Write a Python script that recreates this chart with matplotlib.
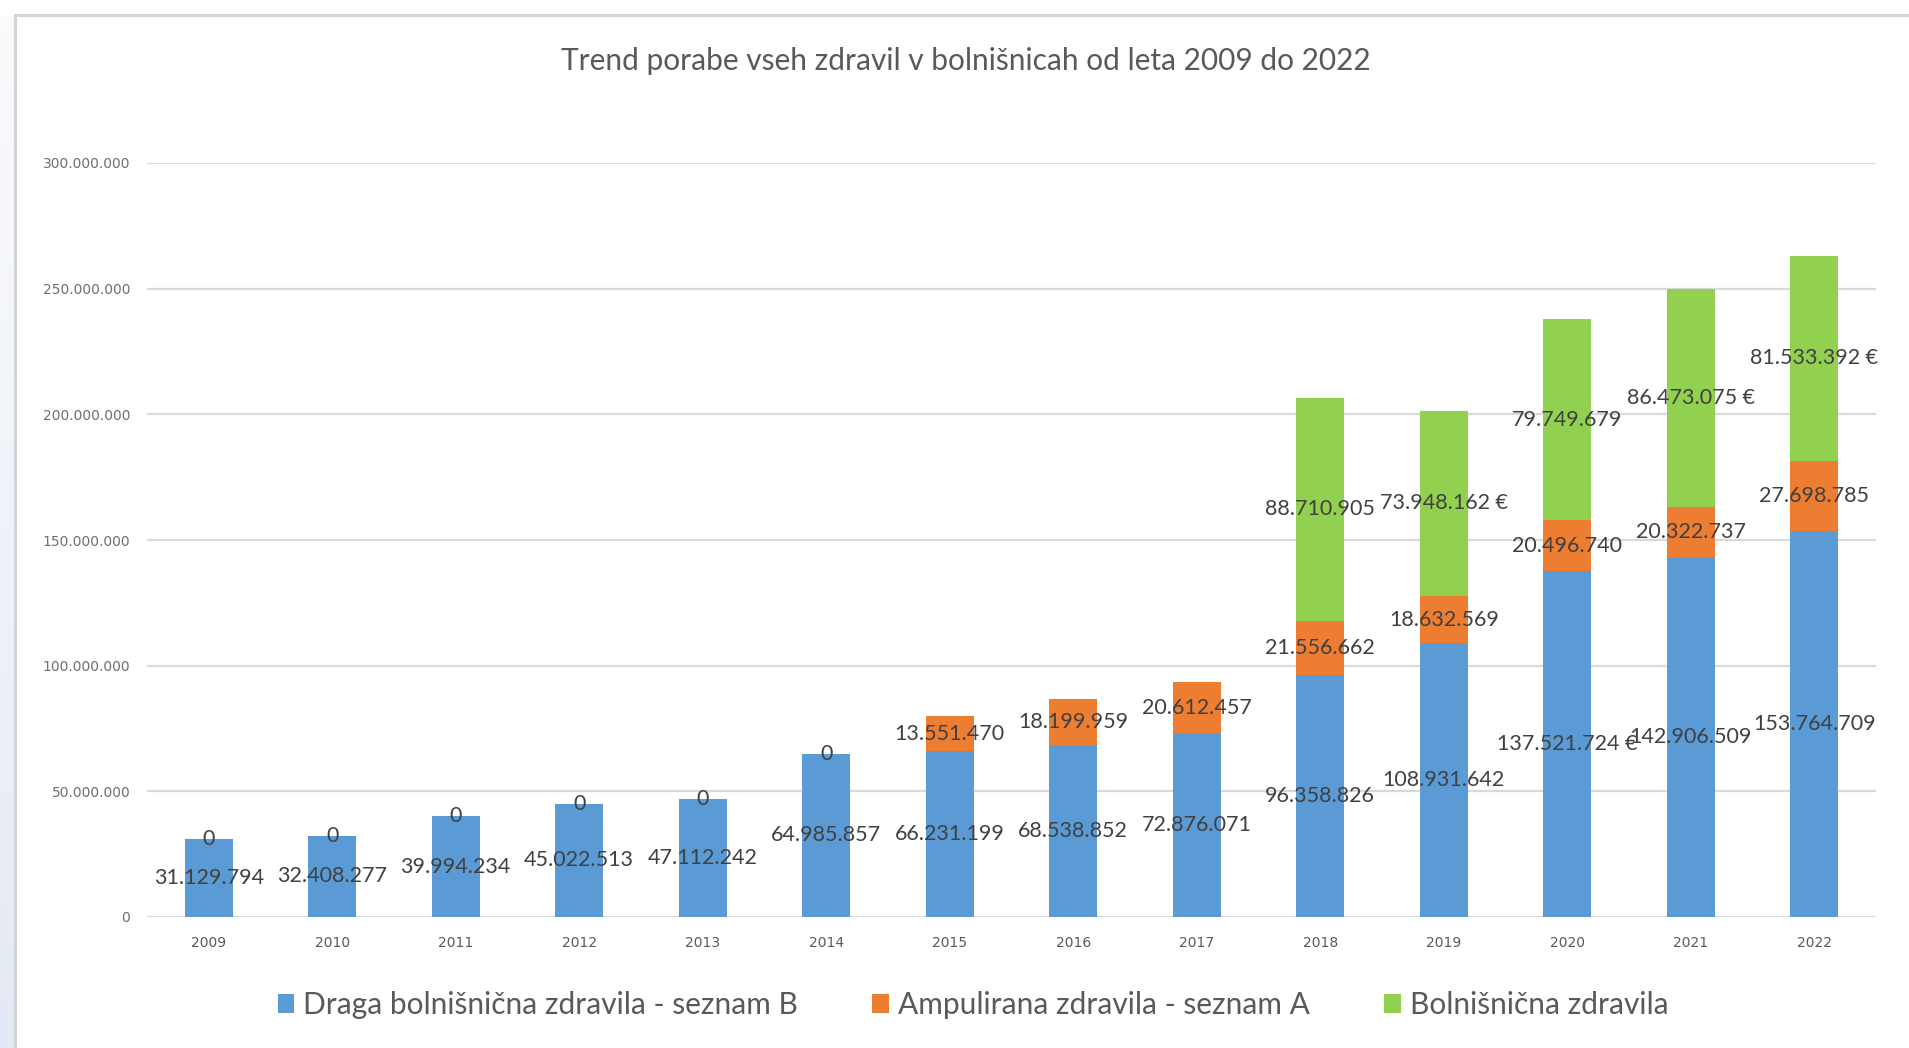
import numpy as np
import matplotlib
matplotlib.use('Agg')
import matplotlib.pyplot as plt
from matplotlib.patches import Rectangle
from matplotlib.ticker import FuncFormatter

plt.rcParams['font.family'] = ['Lato', 'DejaVu Sans']

# ---- podatki ----
years = [2009, 2010, 2011, 2012, 2013, 2014, 2015, 2016, 2017,
         2018, 2019, 2020, 2021, 2022]
seznam_b = [31129794, 32408277, 39994234, 45022513, 47112242, 64985857,
            66231199, 68538852, 72876071, 96358826, 108931642, 137521724,
            142906509, 153764709]
seznam_a = [0, 0, 0, 0, 0, 0, 13551470, 18199959, 20612457, 21556662,
            18632569, 20496740, 20322737, 27698785]
bolnisnicna = [np.nan] * 9 + [88710905, 73948162, 79749679, 86473075, 81533392]

# oznake, ki imajo v izvirniku pripisan znak €
euro_b = [2020]
euro_a = []
euro_g = [2019, 2021, 2022]

series_names = ['Draga bolnišnična zdravila - seznam B',
                'Ampulirana zdravila - seznam A',
                'Bolnišnična zdravila']
title = 'Trend porabe vseh zdravil v bolnišnicah od leta 2009 do 2022'

C_B = '#5B9BD5'
C_A = '#ED7D31'
C_G = '#92D050'
GRID = '#D9D9D9'
TXT = '#404040'


def fmt(v):
    return f'{int(v):,}'.replace(',', '.')


def make_labels(vals, euro):
    out = []
    for y, v in zip(years, vals):
        if isinstance(v, float) and np.isnan(v):
            out.append('')
        else:
            out.append(fmt(v) + (' €' if y in euro else ''))
    return out


W, H = 1909, 1048
fig = plt.figure(figsize=(W / 100, H / 100), dpi=100)
fig.patch.set_facecolor('white')

# okvir grafikona + modrikast rob levo (posnetek zaslona)
grad = fig.add_axes([0, 0, 14 / W, 1 - 16 / H])
grad.imshow(np.linspace(0, 1, 100).reshape(-1, 1), aspect='auto',
            cmap=matplotlib.colors.LinearSegmentedColormap.from_list(
                'g', ['#FAFBFD', '#E4EAF5']), extent=[0, 1, 0, 1], origin='upper')
grad.axis('off')
fig.add_artist(Rectangle((15 / W, -0.1), 2, 1.1 - 15 / H, transform=fig.transFigure,
                         fill=False, edgecolor='#D4D4D4', lw=2.2))

ax = fig.add_axes([147 / W, 1 - 917 / H, (1876 - 147) / W, (917 - 163) / H])
x = np.arange(len(years))
b = np.array(seznam_b, dtype=float)
a = np.array(seznam_a, dtype=float)
g = np.array(bolnisnicna, dtype=float)

bw = 0.39
bars_b = ax.bar(x, b, bw, color=C_B, label=series_names[0], zorder=2)
bars_a = ax.bar(x, a, bw, bottom=b, color=C_A, label=series_names[1], zorder=2)
bars_g = ax.bar(x, np.nan_to_num(g), bw, bottom=b + a, color=C_G,
                label=series_names[2], zorder=2)

for bars, vals, eur in [(bars_b, seznam_b, euro_b), (bars_a, seznam_a, euro_a),
                        (bars_g, bolnisnicna, euro_g)]:
    ax.bar_label(bars, labels=make_labels(vals, eur), label_type='center',
                 fontsize=15.5, color=TXT, zorder=5)

ax.set_xlim(-0.5, len(years) - 0.5)
ax.set_ylim(0, 300000000)
ax.set_yticks(np.arange(0, 300000001, 50000000))
ax.yaxis.set_major_formatter(FuncFormatter(lambda v, p: fmt(v)))
ax.set_xticks(x)
ax.set_xticklabels([str(y) for y in years])
for lab in ax.get_yticklabels():
    lab.set_family('DejaVu Sans'); lab.set_fontsize(10); lab.set_color('#6F6F6F')
for lab in ax.get_xticklabels():
    lab.set_family('DejaVu Sans'); lab.set_fontsize(10); lab.set_color('#595959')
ax.tick_params(axis='both', length=0)
ax.tick_params(axis='y', pad=12)
ax.tick_params(axis='x', pad=14)
ax.grid(axis='y', color=GRID, lw=1.6, zorder=0)
ax.set_axisbelow(True)
for s in ax.spines.values():
    s.set_visible(False)

fig.text(966 / W, 1 - 61 / H, title, ha='center', va='center',
         fontsize=21.5, color='#595959')

leg = ax.legend(loc='center', bbox_to_anchor=(973 / W, 1 - 1005 / H),
                bbox_transform=fig.transFigure, ncol=3, frameon=False,
                fontsize=21.5, handlelength=0.55, handleheight=0.65,
                handletextpad=0.3, columnspacing=2.5, borderpad=0)
for t in leg.get_texts():
    t.set_color('#595959')

fig.savefig('out.png', dpi=100, facecolor='white')
